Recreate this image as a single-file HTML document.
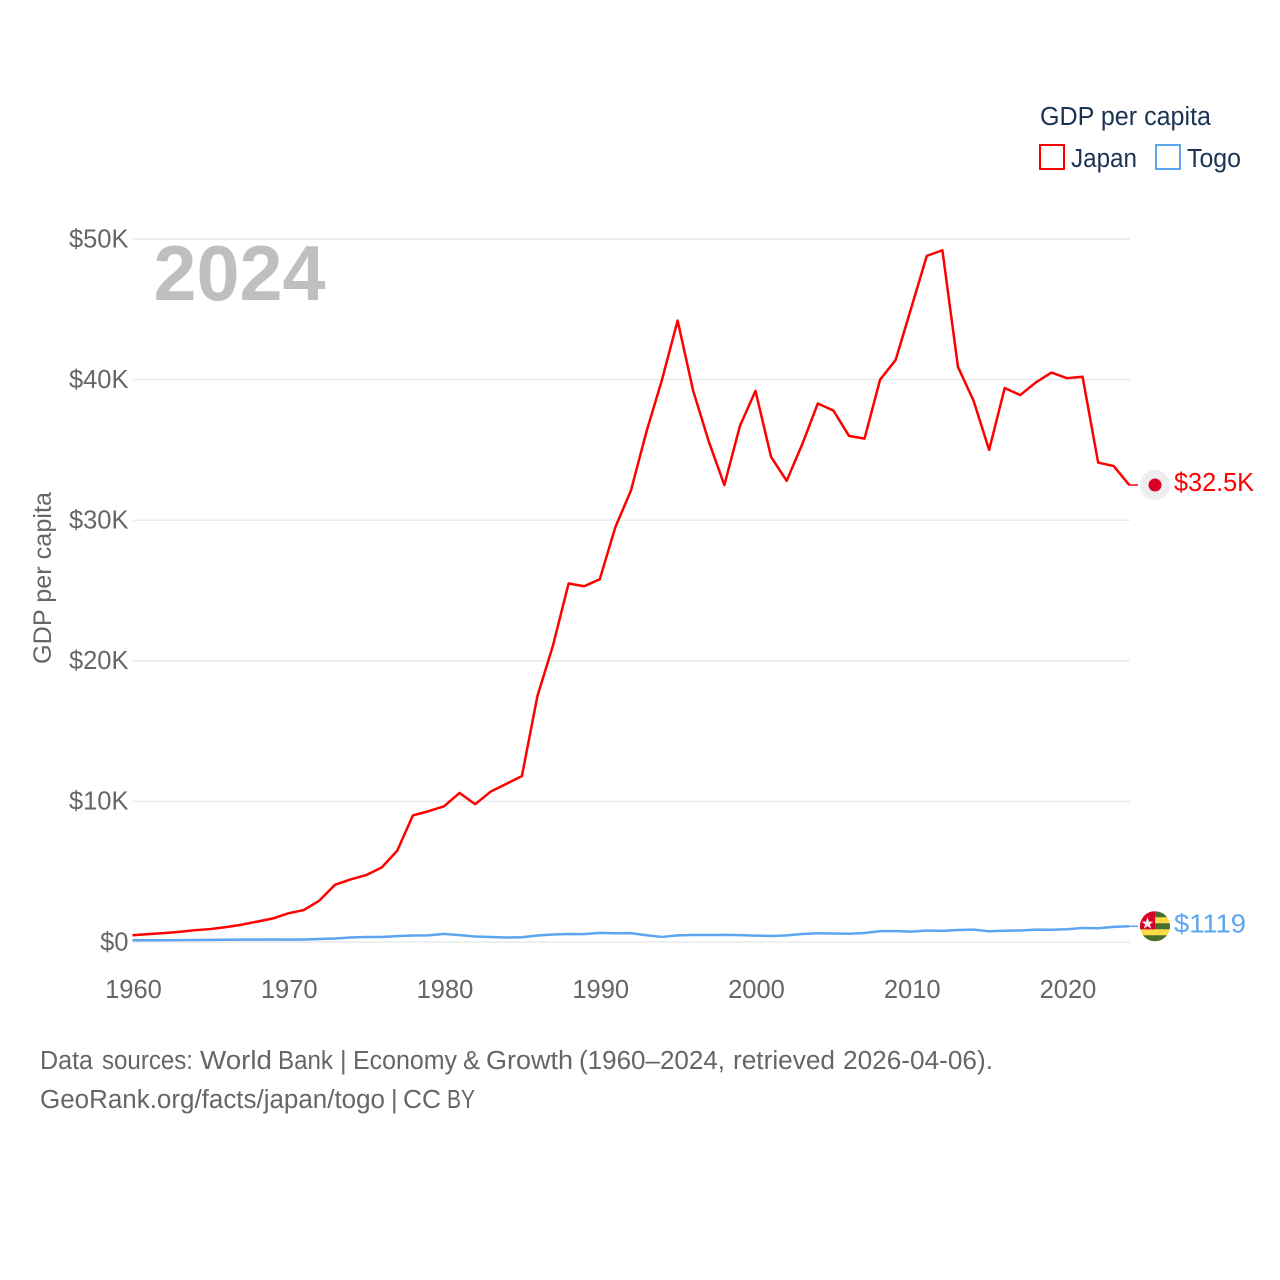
<!DOCTYPE html>
<html lang="en">
<head>
<meta charset="utf-8">
<title>GDP per capita: Japan vs Togo</title>
<style>
html,body{margin:0;padding:0;background:#fff;width:1280px;height:1280px;overflow:hidden}
svg{display:block}
text{font-family:"Liberation Sans",sans-serif}
</style>
</head>
<body>
<svg id="chart" width="1280" height="1280" viewBox="0 0 1280 1280" xmlns="http://www.w3.org/2000/svg">
  <rect width="1280" height="1280" fill="#ffffff"/>
  <g id="grid"></g>
  <g id="yticks"></g>
  <g id="xticks"></g>
  <text x="153.5" y="300" font-size="78" font-weight="700" fill="#bfbfbf" textLength="172" lengthAdjust="spacingAndGlyphs">2024</text>
  <text transform="translate(51,664) rotate(-90)" font-size="25" fill="#666666" textLength="172" lengthAdjust="spacingAndGlyphs">GDP per capita</text>
  <g id="series"></g>
  <g id="flag-japan">
    <circle r="15" fill="#eeeeee"/>
    <circle r="6.5" fill="#d80027"/>
  </g>
  <g id="flag-togo">
    <clipPath id="togo-clip"><circle r="15"/></clipPath>
    <g clip-path="url(#togo-clip)">
      <rect x="-15" y="-15" width="30" height="30" fill="#ffda44"/>
      <rect x="-15" y="-15" width="30" height="6" fill="#496e2d"/>
      <rect x="-15" y="-3" width="30" height="6" fill="#496e2d"/>
      <rect x="-15" y="9" width="30" height="6" fill="#496e2d"/>
      <rect x="-15" y="-15" width="15" height="18" fill="#d80027"/>
      <polygon points="-7.5,-8 -6,-3.6 -1.6,-3.6 -5.1,-0.9 -3.8,3.4 -7.5,0.8 -11.2,3.4 -9.9,-0.9 -13.4,-3.6 -9,-3.6" fill="#f0f0f0" transform="translate(0,-1)"/>
    </g>
  </g>
  <text id="label-japan" x="1174" font-size="26" fill="#ff0000" textLength="80" lengthAdjust="spacingAndGlyphs">$32.5K</text>
  <text id="label-togo" x="1174" font-size="26" fill="#5ba6ef" textLength="72" lengthAdjust="spacingAndGlyphs">$1119</text>

  <g>
    <text x="1040" y="125" font-size="25.5" fill="#1a3353" textLength="171" lengthAdjust="spacingAndGlyphs">GDP per capita</text>
    <rect x="1040" y="145" width="24" height="24" fill="none" stroke="#ff0000" stroke-width="2"/>
    <text x="1071" y="167" font-size="25.5" fill="#1a3353" textLength="66" lengthAdjust="spacingAndGlyphs">Japan</text>
    <rect x="1156" y="145" width="24" height="24" fill="none" stroke="#5ba6ef" stroke-width="2"/>
    <text x="1187" y="167" font-size="25.5" fill="#1a3353" textLength="54" lengthAdjust="spacingAndGlyphs">Togo</text>
  </g>

  <g font-size="25.5" fill="#666666">
    <text y="1069"><tspan x="40" textLength="53" lengthAdjust="spacingAndGlyphs">Data</tspan> <tspan x="102" textLength="91" lengthAdjust="spacingAndGlyphs">sources:</tspan> <tspan x="200" textLength="72" lengthAdjust="spacingAndGlyphs">World</tspan> <tspan x="278" textLength="55" lengthAdjust="spacingAndGlyphs">Bank</tspan> <tspan x="340">|</tspan> <tspan x="353" textLength="104" lengthAdjust="spacingAndGlyphs">Economy</tspan> <tspan x="463" textLength="17" lengthAdjust="spacingAndGlyphs">&amp;</tspan> <tspan x="486" textLength="87" lengthAdjust="spacingAndGlyphs">Growth</tspan> <tspan x="579" textLength="146" lengthAdjust="spacingAndGlyphs">(1960–2024,</tspan> <tspan x="733" textLength="102" lengthAdjust="spacingAndGlyphs">retrieved</tspan> <tspan x="843" textLength="150" lengthAdjust="spacingAndGlyphs">2026-04-06).</tspan></text>
    <text y="1108"><tspan x="40" textLength="345" lengthAdjust="spacingAndGlyphs">GeoRank.org/facts/japan/togo</tspan> <tspan x="391">|</tspan> <tspan x="403" textLength="38" lengthAdjust="spacingAndGlyphs">CC</tspan> <tspan x="447" textLength="28" lengthAdjust="spacingAndGlyphs">BY</tspan></text>
  </g>
</svg>
<script>
const startYear = 1960;
const yTickValues = [0, 10, 20, 30, 40, 50];
const yTickLabels = ["$0", "$10K", "$20K", "$30K", "$40K", "$50K"];
const xTickValues = [1960, 1970, 1980, 1990, 2000, 2010, 2020];
const xTickLabels = ["1960", "1970", "1980", "1990", "2000", "2010", "2020"];
const japanValues = [0.48,0.56,0.63,0.72,0.84,0.92,1.06,1.23,1.45,1.67,2.04,2.27,2.95,4.07,4.45,4.76,5.3,6.5,9.0,9.3,9.65,10.6,9.8,10.7,11.25,11.8,17.5,21.1,25.5,25.3,25.8,29.5,32.1,36.3,40.0,44.2,39.2,35.6,32.5,36.7,39.2,34.5,32.8,35.4,38.3,37.8,36.0,35.8,40.0,41.4,45.1,48.8,49.2,40.9,38.5,35.0,39.4,38.9,39.8,40.5,40.1,40.2,34.1,33.85,32.5];
const togoValues = [0.12,0.12,0.12,0.13,0.14,0.15,0.16,0.17,0.17,0.18,0.17,0.18,0.21,0.25,0.32,0.36,0.36,0.42,0.46,0.47,0.58,0.49,0.39,0.36,0.32,0.34,0.46,0.53,0.57,0.56,0.65,0.62,0.63,0.48,0.36,0.47,0.5,0.5,0.51,0.49,0.45,0.43,0.47,0.57,0.62,0.6,0.59,0.64,0.77,0.77,0.74,0.82,0.79,0.85,0.88,0.76,0.8,0.82,0.88,0.87,0.91,1.0,0.98,1.08,1.119];

const NS = "http://www.w3.org/2000/svg";
function xScale(year) { return 132.5 + (year - 1960) * 15.575; }
function yScale(v) { return 942 - v * 14.06; }
function make(tag, attrs, parent) {
  const el = document.createElementNS(NS, tag);
  for (const k in attrs) el.setAttribute(k, attrs[k]);
  parent.appendChild(el);
  return el;
}
const grid = document.getElementById("grid");
const yticks = document.getElementById("yticks");
const xticks = document.getElementById("xticks");
const series = document.getElementById("series");

yTickValues.forEach(function (v, i) {
  const line = make("line", {x1: 133, x2: 1130, y1: yScale(v), y2: yScale(v), stroke: "#e9ebec", "stroke-width": 1.5}, grid);
  
  
  const t = make("text", {x: 128.5, y: yScale(v) + 8.3, "text-anchor": "end", "font-size": 25.5, fill: "#666666"}, yticks);
  
  
  t.textContent = yTickLabels[i];
});
xTickValues.forEach(function (yr, i) {
  const t = make("text", {x: xScale(yr) + 1, y: 998, "text-anchor": "middle", "font-size": 25.5, fill: "#666666"}, xticks);
  
  
  t.textContent = xTickLabels[i];
});
function pathFor(values) {
  return values.map(function (v, i) {
    return (i ? "L" : "M") + xScale(startYear + i).toFixed(2) + " " + yScale(v).toFixed(2);
  }).join(" ");
}
const togoLine = make("path", {d: pathFor(togoValues), fill: "none", stroke: "#5ba6ef", "stroke-width": 2.5, "stroke-linejoin": "round"}, series);


const japanLine = make("path", {d: pathFor(japanValues), fill: "none", stroke: "#ff0000", "stroke-width": 2.5, "stroke-linejoin": "round"}, series);



const lastYear = startYear + japanValues.length - 1;
const japanEndY = yScale(japanValues[japanValues.length - 1]);
const togoEndY = yScale(togoValues[togoValues.length - 1]);
const japanLeader = make("line", {x1: xScale(lastYear), x2: 1138, y1: japanEndY, y2: japanEndY, stroke: "#ff0000", "stroke-width": 1.5}, series);


const togoLeader = make("line", {x1: xScale(lastYear), x2: 1138, y1: togoEndY, y2: togoEndY, stroke: "#5ba6ef", "stroke-width": 1.5}, series);



document.getElementById("flag-japan").setAttribute("transform", "translate(1155," + japanEndY + ")");
document.getElementById("flag-togo").setAttribute("transform", "translate(1155," + togoEndY + ")");
document.getElementById("label-japan").setAttribute("y", japanEndY + 6);
document.getElementById("label-togo").setAttribute("y", togoEndY + 6);
</script>
</body>
</html>
